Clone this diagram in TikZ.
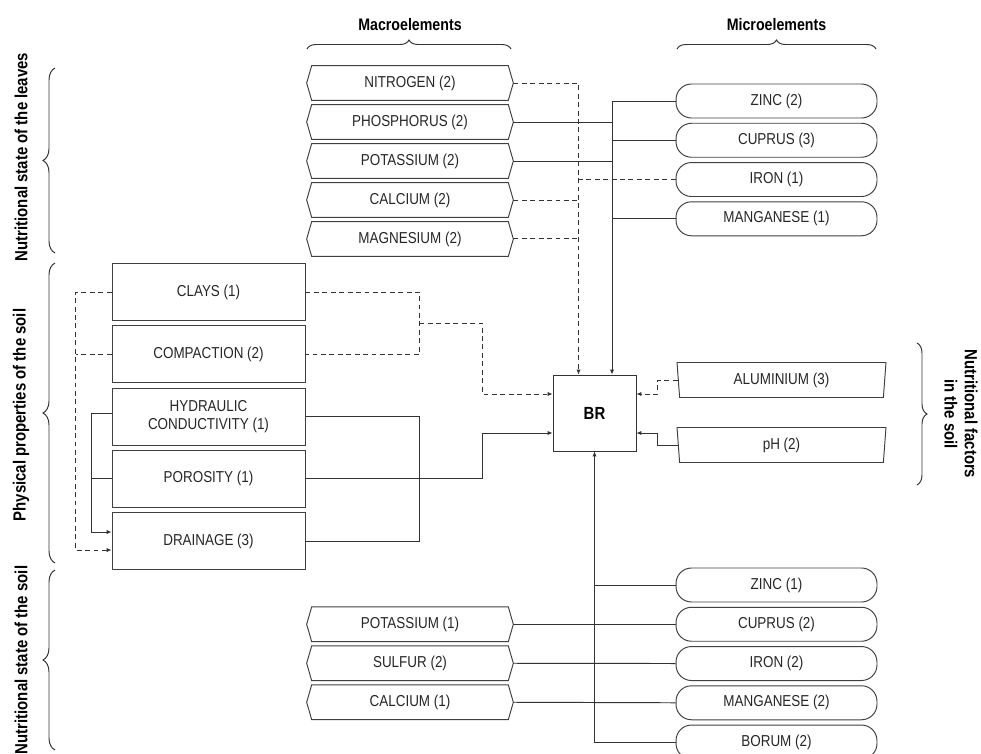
\documentclass[tikz,border=0pt]{standalone}
\usepackage{fontspec}
\setmainfont{Liberation Sans}[FakeStretch=0.85]
\usetikzlibrary{
  arrows.meta,
  positioning,
  calc,
  decorations.pathreplacing,
  shapes.geometric}
\tikzset{every picture/.style={font issue=\fontsize{9}{10.5}},
         font issue/.style={execute at begin picture={#1\selectfont}}
        }
\tikzset{
  wire/.style={draw=black!80, line width=0.55pt},
  dashwire/.style={wire, dash pattern=on 2.8pt off 2pt},
  macro/.style={rectangle, minimum width=4.12cm, minimum height=0.68cm, inner sep=0pt,
    text=black!85,
    append after command={\pgfextra{\draw[draw=black!75, line width=0.55pt]
      (\tikzlastnode.west) -- ([xshift=0.1cm]\tikzlastnode.north west)
      -- ([xshift=-0.1cm]\tikzlastnode.north east) -- (\tikzlastnode.east)
      -- ([xshift=-0.1cm]\tikzlastnode.south east)
      -- ([xshift=0.1cm]\tikzlastnode.south west) -- cycle;}}},
  micro/.style={rectangle, rounded corners=0.31cm, draw=black!75, line width=0.55pt,
    minimum width=4.02cm, minimum height=0.68cm, inner sep=0pt, text=black!85},
  soilbox/.style={rectangle, draw=black!75, line width=0.55pt, minimum width=3.86cm,
    minimum height=1.14cm, inner sep=0pt, align=center, text=black!85},
  factor/.style={trapezium, trapezium stretches body, shape border rotate=180,
    trapezium angle=80, draw=black!75, line width=0.55pt, minimum width=4.18cm,
    minimum height=0.7cm, inner sep=0pt, text=black!85},
  heading/.style={font=\fontsize{9.5}{11}\selectfont\bfseries},
  side/.style={font=\fontsize{10}{11.5}\selectfont\bfseries},
  bracket/.style={wire, decorate, decoration={brace, amplitude=#1}},
  >={Latex[length=1mm,width=0.9mm]}
}

\begin{document}
\begin{tikzpicture}[x=0.02cm, y=-0.02cm, node distance=0.086cm]
\useasboundingbox (0,0) rectangle (981,754);

%titles
\node[heading] (macrotitle) at (410,25) {Macroelements};
\node[heading] (microtitle) at (776.5,25) {Microelements};
\node[side, rotate=90] (leaveslabel) at (21,157) {Nutritional state of the leaves};
\node[side, rotate=90] (physlabel) at (21,415) {Physical properties of the soil};
\node[side, rotate=90] (soillabel) at (21,660) {Nutritional state of the soil};
\node[side, rotate=-90, align=center] (factorlabel) at (961,414) {Nutritional factors\\in the soil};

%leaves
\node[macro] (nitrogen) at (410,83) {NITROGEN (2)};
\node[macro, below = of nitrogen] (phosphorus) {PHOSPHORUS (2)};
\node[macro, below = of phosphorus] (potassiumtop) {POTASSIUM (2)};
\node[macro, below = of potassiumtop] (calciumtop) {CALCIUM (2)};
\node[macro, below = of calciumtop] (magnesium) {MAGNESIUM (2)};

\node[micro] (zinctop) at (776.5,101) {ZINC (2)};
\node[micro, below = of zinctop] (cuprustop) {CUPRUS (3)};
\node[micro, below = of cuprustop] (irontop) {IRON (1)};
\node[micro, below = of irontop] (manganesetop) {MANGANESE (1)};

%physical properties
\node[soilbox] (clays) at (208.5,292) {CLAYS (1)};
\node[soilbox, below = of clays] (compaction) {COMPACTION (2)};
\node[soilbox, below = of compaction] (hydraulic) {HYDRAULIC\\CONDUCTIVITY (1)};
\node[soilbox, below = of hydraulic] (porosity) {POROSITY (1)};
\node[soilbox, below = of porosity] (drainage) {DRAINAGE (3)};

\node[draw=black!80, line width=0.55pt, minimum width=1.66cm, minimum height=1.52cm,
  font=\fontsize{10}{12}\selectfont\bfseries] (br) at (594.5,413) {BR};

\node[factor] (aluminium) at (781.5,380) {ALUMINIUM (3)};
\node[factor] (ph) at (781.5,445) {pH (2)};

%soil nutrients
\node[micro] (zincbot) at (776.5,585) {ZINC (1)};
\node[micro, below = of zincbot] (cuprusbot) {CUPRUS (2)};
\node[micro, below = of cuprusbot] (ironbot) {IRON (2)};
\node[micro, below = of ironbot] (manganesebot) {MANGANESE (2)};
\node[micro, below = of manganesebot] (borum) {BORUM (2)};

\node[macro] (potassiumbot) at (nitrogen |- cuprusbot) {POTASSIUM (1)};
\node[macro, below = of potassiumbot] (sulfur) {SULFUR (2)};
\node[macro, below = of sulfur] (calciumbot) {CALCIUM (1)};

\coordinate (dashbus) at (578.5,0);
\coordinate (solidbus) at (612,0);
\coordinate (dashin) at ([yshift=0.38cm]br.west);
\coordinate (solidin) at ([yshift=-0.4cm]br.west);
\coordinate (dashinr) at ([yshift=0.38cm]br.east);
\coordinate (solidinr) at ([yshift=-0.4cm]br.east);

%lines
\draw[dashwire, ->] (nitrogen.east) -| (dashbus |- br.north);
\draw[dashwire] (calciumtop.east) -- (dashbus |- calciumtop.east);
\draw[dashwire] (magnesium.east) -- (dashbus |- magnesium.east);
\draw[dashwire] (irontop.west) -- (dashbus |- irontop.west);
\draw[wire, ->] (zinctop.west) -| (solidbus |- br.north);
\draw[wire] (phosphorus.east) -- (solidbus |- phosphorus.east);
\draw[wire] (potassiumtop.east) -- (solidbus |- potassiumtop.east);
\draw[wire] (cuprustop.west) -- (solidbus |- cuprustop.west);
\draw[wire] (manganesetop.west) -- (solidbus |- manganesetop.west);

\draw[dashwire] (clays.east) -- ++(114,0) |- (compaction.east);
\draw[dashwire, ->] ($(clays.east)!0.5!(compaction.east)+(114,0)$) -- ++(63,0) |- (dashin);
\draw[wire] (hydraulic.east) -- ++(114,0) |- (drainage.east);
\draw[wire, ->] (porosity.east) -- ++(177,0) |- (solidin);

\draw[dashwire, ->] (clays.west) -- ++(-36,0) |- ([yshift=-0.18cm]drainage.west);
\draw[dashwire] (compaction.west) -- ++(-36,0);
\draw[wire, ->] ([yshift=0.06cm]hydraulic.west) -- ++(-20,0) |- ([yshift=0.18cm]drainage.west);
\draw[wire] (porosity.west) -- ++(-20,0);

\draw[dashwire, ->] (aluminium.west) -- ++(-20,0) |- (dashinr);
\draw[wire, ->] (ph.west) -- ++(-20,0) |- (solidinr);

\draw[wire, ->] (borum.west) -| (br.south);
\draw[wire] (zincbot.west) -- (br.south |- zincbot.west);
\draw[wire] (potassiumbot.east) -- (cuprusbot.west);
\draw[wire] (sulfur.east) -- (ironbot.west);
\draw[wire] (calciumbot.east) -- (manganesebot.west);

%braces
\draw[bracket=0.18cm] (307,49) -- (511,49);
\draw[bracket=0.18cm] (677,49) -- (876,49);
\draw[bracket=0.24cm] (55,253) -- (55,68);
\draw[bracket=0.24cm] (55,563) -- (55,263);
\draw[bracket=0.24cm] (55,750) -- (55,570);
\draw[bracket=0.2cm] (917,343) -- (917,485);

\end{tikzpicture}
\end{document}
